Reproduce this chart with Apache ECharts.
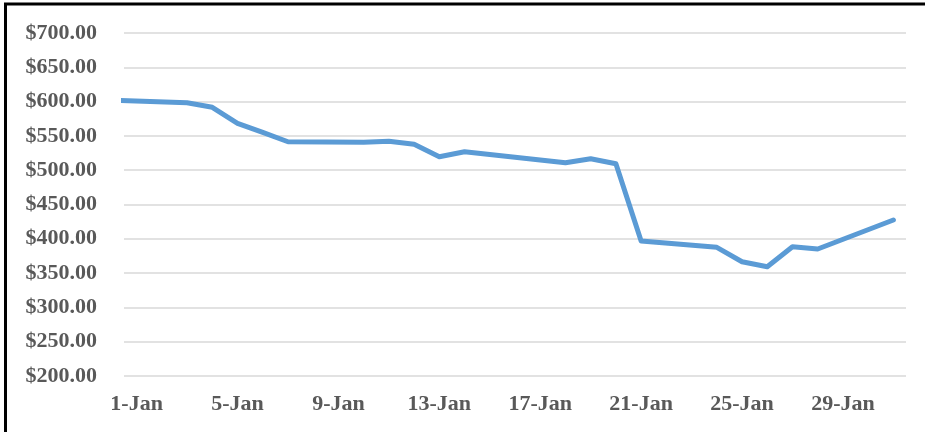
<!DOCTYPE html>
<html>
<head>
<meta charset="utf-8">
<script src="https://cdn.jsdelivr.net/npm/echarts@6/dist/echarts.min.js"></script>
<style>
html,body{margin:0;padding:0;background:#fff;}
#chart{width:925px;height:432px;}
</style>
</head>
<body>
<div id="chart"></div>
<script>
// Day of January (0 = 31-Dec) for each trading day
var days = [0, 3, 4, 5, 6, 7, 10, 11, 12, 13, 14, 18, 19, 20, 21, 24, 25, 26, 27, 28, 31];
var prices = [601.9, 598.4, 591.7, 568.4, 555.0, 541.5, 540.7, 542.1, 537.8, 519.7, 527.0, 510.9, 516.8, 509.5, 396.8, 387.6, 366.6, 359.3, 388.5, 385.1, 427.4];
var tickDays = [1, 5, 9, 13, 17, 21, 25, 29];
var tickLabels = ['1-Jan', '5-Jan', '9-Jan', '13-Jan', '17-Jan', '21-Jan', '25-Jan', '29-Jan'];

var chart = echarts.init(document.getElementById('chart'));
var labelFont = {fontFamily: '"Liberation Serif", "Times New Roman", serif', fontWeight: 'bold', fontSize: 22, color: '#595959'};

chart.setOption({
  animation: false,
  backgroundColor: '#fff',
  grid: {left: 124, right: 19, top: 33, bottom: 56, containLabel: false},
  xAxis: {
    type: 'value',
    min: 0.5,
    max: 31.5,
    axisLine: {show: false},
    axisTick: {show: false},
    splitLine: {show: false},
    axisLabel: Object.assign({
      customValues: tickDays,
      margin: 17,
      formatter: function (v) {
        var i = tickDays.indexOf(Math.round(v));
        return i >= 0 ? tickLabels[i] : '';
      }
    }, labelFont)
  },
  yAxis: {
    type: 'value',
    min: 200,
    max: 700,
    interval: 50,
    axisLine: {show: false},
    axisTick: {show: false},
    splitLine: {lineStyle: {color: '#D9D9D9', width: 1.5}},
    axisLabel: Object.assign({
      margin: 27,
      formatter: function (v) { return '$' + v.toFixed(2); }
    }, labelFont)
  },
  series: [{
    type: 'line',
    data: days.map(function (d, i) { return [d, prices[i]]; }),
    showSymbol: false,
    clip: true,
    lineStyle: {color: '#5B9BD5', width: 5, cap: 'round', join: 'round'}
  }],
  graphic: [{
    type: 'rect',
    shape: {x: 5.5, y: 4, width: 940, height: 460},
    style: {fill: 'none', stroke: '#000', lineWidth: 3},
    silent: true,
    z: 100
  }]
});
</script>
</body>
</html>
